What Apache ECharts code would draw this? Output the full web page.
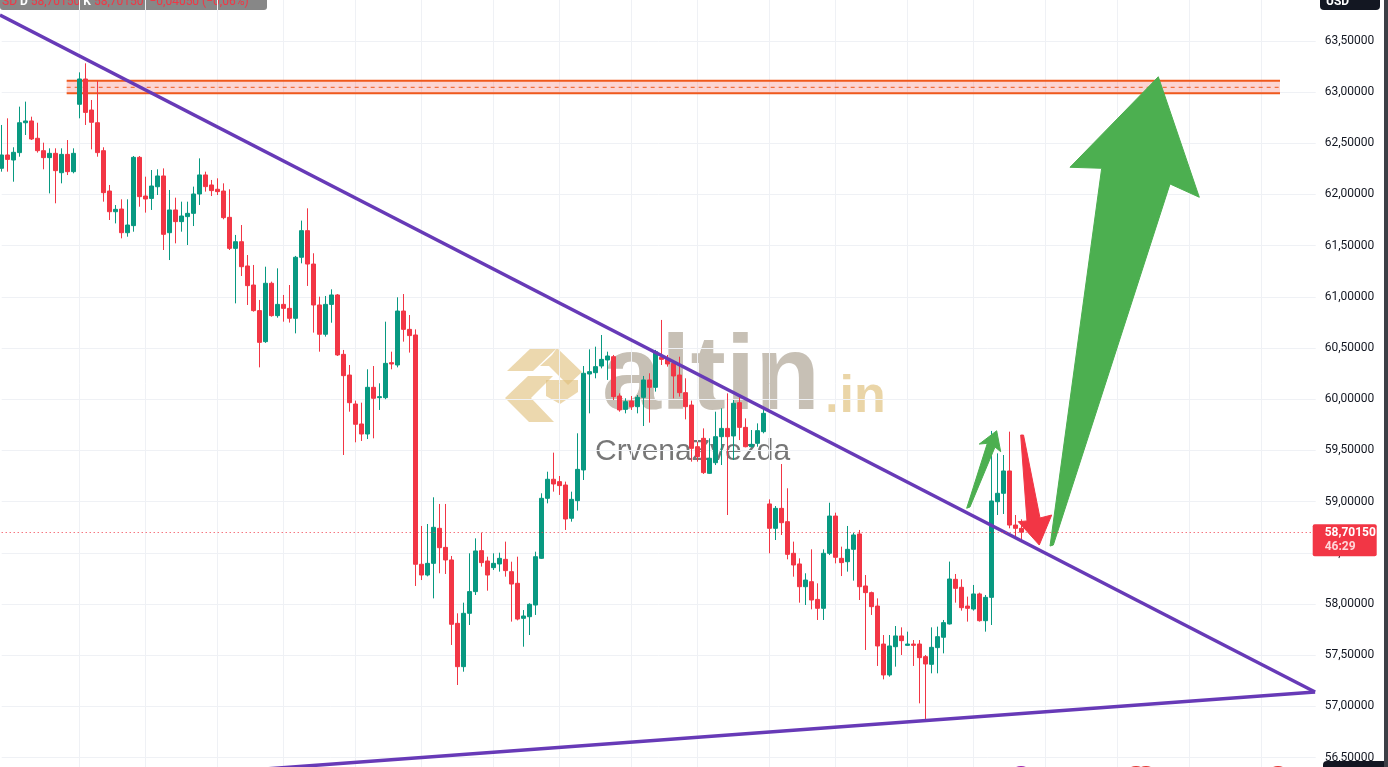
<!DOCTYPE html>
<html><head><meta charset="utf-8">
<script src="https://cdn.jsdelivr.net/npm/echarts/dist/echarts.min.js"></script>
<style>html,body{margin:0;padding:0;background:#fff;overflow:hidden}#chart{width:1388px;height:767px}</style>
</head><body><div id="chart"></div>
<script>
// ---- data ----
const candleOpen = [62.255,62.385,62.336,62.408,62.700,62.717,62.548,62.427,62.359,62.401,62.212,62.391,62.222,62.880,63.127,62.824,62.700,62.427,62.033,61.831,61.857,61.626,61.695,62.362,61.984,61.961,62.075,62.180,61.626,61.848,
61.734,61.783,61.815,62.004,62.190,62.092,62.050,62.033,61.776,61.473,61.538,61.301,61.115,60.865,60.562,61.132,60.816,60.926,60.887,60.790,61.386,61.646,61.320,60.920,60.634,60.926,61.018,60.438,
60.236,59.953,59.758,59.660,60.116,60.015,60.015,60.357,60.334,60.861,60.682,60.627,58.388,58.283,58.397,58.739,58.553,58.430,57.811,57.388,57.909,58.121,58.521,58.420,58.355,58.391,58.436,
58.316,58.202,57.860,57.876,57.990,58.446,59.032,59.218,59.195,59.162,58.837,59.009,59.309,60.246,60.259,60.324,60.383,60.415,60.031,59.901,59.982,59.927,60.018,60.188,60.116,60.409,60.389,60.350,
60.236,60.064,59.943,59.536,59.618,59.276,59.380,59.634,59.715,59.641,59.966,59.725,59.536,59.569,59.683,58.977,58.739,58.934,58.804,58.495,58.391,58.169,58.218,58.045,57.958,58.495,58.859,
58.446,58.413,58.534,58.684,58.176,58.111,57.980,57.609,57.307,57.583,57.688,57.596,57.609,57.609,57.486,57.411,57.574,57.675,57.805,58.241,58.163,57.980,57.951,58.098,57.837,58.065,58.999,59.081,59.299,58.771,58.739];
const candleHigh = [62.678,62.743,62.460,62.857,62.906,62.759,62.700,62.505,62.450,62.450,62.450,62.531,62.450,63.192,63.280,62.922,63.111,62.460,62.092,61.896,61.952,61.952,62.375,62.375,62.173,62.238,62.245,62.254,62.043,61.968,
61.929,61.929,62.076,62.352,62.222,62.141,62.157,62.108,62.050,61.604,61.701,61.408,61.311,60.969,61.294,61.148,61.278,61.018,61.115,61.399,61.744,61.864,61.425,61.001,61.008,61.073,61.027,60.481,
60.334,59.986,59.966,60.292,60.324,60.155,60.757,60.464,60.995,61.027,60.822,60.682,58.762,58.781,59.042,58.977,58.977,58.469,57.909,58.013,58.495,58.641,58.697,58.462,58.495,58.501,58.609,
58.413,58.462,57.941,58.007,58.511,59.081,59.292,59.478,59.250,59.195,59.097,59.667,60.324,60.487,60.513,60.627,60.464,60.432,60.057,60.009,60.031,60.041,60.227,60.253,60.481,60.774,60.432,60.383,
60.415,60.204,59.986,59.585,59.715,59.618,59.878,59.911,60.057,59.992,60.041,59.813,59.699,59.764,59.911,59.022,58.957,59.367,59.130,58.609,58.446,58.300,58.534,58.202,58.534,58.989,58.892,
58.560,58.762,58.697,58.723,58.283,58.121,58.055,57.697,57.697,57.785,57.772,57.730,57.648,57.648,57.502,57.772,57.779,57.844,58.414,58.293,58.241,58.072,58.186,58.111,58.088,59.690,59.471,59.455,59.683,58.869,58.827];
const candleLow = [62.222,62.222,62.124,62.368,62.580,62.531,62.408,62.245,62.010,61.913,62.108,62.189,62.206,62.743,62.678,62.440,62.368,61.929,61.750,61.717,61.571,61.587,61.636,61.880,61.822,61.848,61.994,61.457,61.359,61.522,
61.636,61.506,61.691,61.897,62.027,61.984,61.994,61.757,61.457,60.936,61.203,60.920,60.855,60.311,60.550,60.806,60.796,60.757,60.748,60.643,61.327,61.106,60.650,60.464,60.611,60.747,60.422,59.455,
59.878,59.579,59.592,59.611,59.618,59.895,60.000,60.292,60.311,60.562,60.455,58.176,58.234,58.270,58.055,58.300,58.293,57.600,57.209,57.339,57.795,58.088,58.365,58.130,58.332,58.316,58.267,
57.828,57.840,57.583,57.697,57.893,58.440,58.983,59.097,59.065,58.723,58.804,58.912,59.211,59.862,60.204,60.301,60.188,59.992,59.878,59.862,59.895,59.862,59.738,59.771,60.074,60.334,60.318,60.008,
60.025,59.803,59.390,59.390,59.270,59.270,59.357,59.357,58.869,59.406,59.601,59.530,59.530,59.536,59.667,58.495,58.625,58.674,58.436,58.267,58.013,57.990,57.948,57.844,57.844,58.478,58.397,
58.273,58.316,58.228,58.039,57.551,57.893,57.395,57.264,57.290,57.388,57.502,57.590,57.395,57.030,56.851,57.323,57.323,57.518,57.800,58.013,57.935,57.828,57.935,57.828,57.730,57.795,58.869,58.879,58.739,58.641,58.625];
const candleClose = [62.385,62.342,62.411,62.700,62.717,62.541,62.427,62.359,62.401,62.232,62.391,62.222,62.401,63.127,62.801,62.704,62.408,62.017,61.831,61.854,61.626,61.701,62.362,61.978,61.955,62.082,62.180,61.610,61.848,61.734,
61.789,61.815,62.004,62.190,62.076,62.037,62.027,61.773,61.473,61.538,61.294,61.109,60.865,60.555,61.132,60.816,60.926,60.887,60.790,61.386,61.646,61.320,60.920,60.634,60.926,61.018,60.432,60.230,
59.966,59.755,59.660,60.116,60.009,60.025,60.350,60.344,60.861,60.682,60.621,58.388,58.283,58.397,58.749,58.550,58.430,57.802,57.388,57.909,58.121,58.518,58.404,58.283,58.397,58.446,58.326,
58.195,57.853,57.883,57.997,58.462,59.032,59.218,59.172,59.156,58.830,59.022,59.315,60.253,60.269,60.318,60.389,60.422,60.025,59.895,59.976,59.927,60.018,60.188,60.116,60.464,60.389,60.344,60.227,
60.064,59.927,59.520,59.439,59.283,59.423,59.634,59.715,59.634,59.960,59.725,59.536,59.559,59.693,59.862,58.739,58.934,58.794,58.485,58.381,58.169,58.234,58.039,57.958,58.495,58.859,58.456,
58.404,58.534,58.674,58.169,58.111,57.974,57.590,57.307,57.590,57.688,57.642,57.609,57.596,57.476,57.414,57.577,57.681,57.818,58.244,58.153,57.964,57.958,58.098,57.837,58.065,59.006,59.081,59.299,58.771,58.739,58.7015];
const categories = Array.from({length: 220}, (_, i) => String(i));
const verticalGridIndices = [13,24,36,47,59,70,82,93,105,116,128,139,151,162,174,186,198,210];
const priceMin = 56, priceMax = 64, priceStep = 0.5;
const lastPrice = 58.7015;
const lastPriceText = '58,70150';
const countdownText = '46:29';
const upperTrendLine = [[-0.283, 63.752], [218.9, 57.141]];
const lowerTrendLine = [[30, 56.329], [218.9, 57.141]];
const zoneIdx = [10.83, 213.05];
const zoneTop = 63.110, zoneMid = 63.046, zoneBottom = 62.987;
const arrowBigUp = [[174.72,58.566],[183.33,62.255],[178.05,62.265],[192.77,63.149],[199.6,61.972],[194.72,62.102],[175.27,58.576]];
const arrowSmallUp = [[160.83,58.935],[164.27,59.569],[162.93,59.562],[165.83,59.692],[166.5,59.487],[165.55,59.533],[161.38,58.947]];
const arrowDown = [[169.83,59.650],[170.3,59.650],[173.05,58.840],[175.0,58.869],[172.93,58.576],[169.43,58.804],[170.88,58.811]];

// ---- chart ----
const UP = '#089981', DOWN = '#f23645';
const arrows = [
  {pts: arrowBigUp, color: '#4caf50'},
  {pts: arrowSmallUp, color: '#4caf50'},
  {pts: arrowDown, color: '#f23645'}
];
const chart = echarts.init(document.getElementById('chart'), null, {renderer: 'canvas'});
const gridLineColor = '#eff1f5';
chart.setOption({
  animation: false,
  backgroundColor: '#ffffff',
  grid: {left: 1.7, right: 72.3, top: -10.4, bottom: -41.8, containLabel: false, outerBoundsMode: 'none'},
  xAxis: [
    {type: 'category', data: categories, boundaryGap: false, gridIndex: 0,
     axisLine: {show: false}, axisTick: {show: false}, axisLabel: {show: false},
     splitLine: {show: true, interval: (i) => verticalGridIndices.includes(i), lineStyle: {color: gridLineColor, width: 1}}},
    {type: 'value', min: 0, max: 219, gridIndex: 0, show: false}
  ],
  yAxis: {
    type: 'value', position: 'right', min: priceMin, max: priceMax, interval: priceStep, scale: true,
    axisLine: {show: false}, axisTick: {show: false},
    axisLabel: {color: '#131722', fontSize: 12, fontFamily: 'Roboto', margin: 9,
      formatter: (v) => (v <= priceMin || v >= priceMax) ? '' : v.toFixed(5).replace('.', ',')},
    splitLine: {show: true, lineStyle: {color: gridLineColor, width: 1}}
  },
  series: [
    {
      type: 'custom', name: 'zone', xAxisIndex: 1, yAxisIndex: 0, z: 1, silent: true,
      data: [[zoneIdx[0], zoneTop]],
      renderItem: (params, api) => {
        const a = api.coord([zoneIdx[0], zoneTop]);
        const b = api.coord([zoneIdx[1], zoneBottom]);
        const m = api.coord([zoneIdx[0], zoneMid]);
        const c = '#f0591c';
        return {type: 'group', children: [
          {type: 'rect', shape: {x: a[0], y: a[1], width: b[0] - a[0], height: b[1] - a[1]}, style: {fill: 'rgba(242,80,70,0.24)'}},
          {type: 'line', shape: {x1: a[0], y1: a[1], x2: b[0], y2: a[1]}, style: {stroke: c, lineWidth: 2}},
          {type: 'line', shape: {x1: a[0], y1: b[1], x2: b[0], y2: b[1]}, style: {stroke: c, lineWidth: 2}},
          {type: 'line', shape: {x1: a[0], y1: m[1], x2: b[0], y2: m[1]}, style: {stroke: c, lineWidth: 1, lineDash: [4, 4]}}
        ]};
      }
    },
    {
      type: 'candlestick', xAxisIndex: 0, yAxisIndex: 0, z: 2, clip: false, barWidth: 4,
      data: candleOpen.map((o, i) => [o, candleClose[i], candleLow[i], candleHigh[i]]),
      itemStyle: {color: UP, color0: DOWN, borderColor: UP, borderColor0: DOWN, borderWidth: 1},
      markLine: {silent: true, symbol: ['none', 'none'], label: {show: false},
        lineStyle: {color: DOWN, type: [1, 3], width: 1}, data: [{yAxis: lastPrice}]}
    },
    {type: 'line', xAxisIndex: 1, yAxisIndex: 0, z: 3, clip: false, symbol: 'none', silent: true,
     data: upperTrendLine, lineStyle: {color: '#673ab7', width: 3.5}},
    {type: 'line', xAxisIndex: 1, yAxisIndex: 0, z: 3, clip: false, symbol: 'none', silent: true,
     data: lowerTrendLine, lineStyle: {color: '#673ab7', width: 3.5}},
    {
      type: 'custom', name: 'arrows', xAxisIndex: 1, yAxisIndex: 0, z: 4, silent: true,
      data: arrows.map(a => a.pts[0]),
      renderItem: (params, api) => {
        const s = arrows[params.dataIndex];
        return {type: 'polygon', shape: {points: s.pts.map(p => api.coord(p))},
                style: {fill: s.color, stroke: s.color, lineWidth: 1, lineJoin: 'round'}};
      }
    },
    {
      type: 'custom', name: 'lastPrice', xAxisIndex: 1, yAxisIndex: 0, z: 10, silent: true,
      data: [[219, lastPrice]],
      renderItem: (params, api) => {
        const p = api.coord([219, lastPrice]);
        return {type: 'group', children: [
          {type: 'rect', shape: {x: p[0] - 3, y: p[1] - 8, width: 64, height: 32, r: 2}, style: {fill: '#f23645'}},
          {type: 'text', style: {x: p[0] + 9, y: p[1] - 5, text: lastPriceText, fill: '#ffffff', font: 'bold 12px Roboto', verticalAlign: 'top'}},
          {type: 'text', style: {x: p[0] + 9, y: p[1] + 9, text: countdownText, fill: '#ffd6d9', font: 'bold 12px Roboto', verticalAlign: 'top'}}
        ]};
      }
    }
  ],
  graphic: [
    {type: 'group', z: 50, silent: true, children: [
      {type: 'polygon', shape: {points: [[507,371],[531,348],[557,348],[533,371]]}, style: {fill: 'rgba(224,190,120,0.6)'}},
      {type: 'polygon', shape: {points: [[557,348],[582,372],[568,385],[549,366],[540,366],[552,355]]}, style: {fill: 'rgba(224,190,120,0.6)'}},
      {type: 'polygon', shape: {points: [[505,398],[528,376],[553,376],[531,398],[554,422],[529,422]]}, style: {fill: 'rgba(224,190,120,0.6)'}},
      {type: 'polygon', shape: {points: [[546,380],[578,380],[578,392],[560,404],[546,396]]}, style: {fill: 'rgba(224,190,120,0.6)'}},
      {type: 'text', style: {x: 602, y: 380, text: 'altin', font: 'bold 106px "Liberation Sans"', fill: 'rgba(175,165,150,0.7)', verticalAlign: 'middle'}},
      {type: 'text', style: {x: 825, y: 398, text: '.in', font: 'bold 52px "Liberation Sans"', fill: 'rgba(222,190,120,0.65)', verticalAlign: 'middle'}},
      {type: 'text', style: {x: 595, y: 452, text: 'CrvenaZvezda', font: '30px "Liberation Sans"', fill: 'rgba(95,95,95,0.85)', verticalAlign: 'middle'}}
    ]},
    {type: 'group', z: 60, silent: true, children: [
      {type: 'rect', shape: {x: 0, y: -12, width: 267, height: 22, r: 3}, style: {fill: 'rgba(125,125,125,0.92)'}},
      {type: 'text', style: {x: 2, y: 8, verticalAlign: 'bottom', font: '12px Roboto',
        text: '{r|SD} {w|D} {r|58,70150} {w|K} {r|58,70150}  {r|−0,04050 (−0,06%)}',
        rich: {r: {fill: '#f23645', font: '12px Roboto'}, w: {fill: '#ffffff', font: 'bold 12px Roboto'}}}}
    ]},
    {type: 'group', z: 60, silent: true, children: [
      {type: 'rect', shape: {x: 1320, y: -12, width: 60, height: 22, r: 4}, style: {fill: '#131722'}},
      {type: 'text', style: {x: 1326, y: 8, verticalAlign: 'bottom', text: 'USD', fill: '#ffffff', font: 'bold 12px Roboto'}}
    ]},
    {type: 'rect', z: 60, silent: true, shape: {x: 1323, y: 761, width: 70, height: 20, r: 4}, style: {fill: '#131722'}},
    {type: 'rect', z: 60, silent: true, shape: {x: 1384, y: 0, width: 4, height: 767}, style: {fill: '#3c3f46'}},
    {type: 'circle', z: 60, silent: true, shape: {cx: 1021, cy: 778, r: 11}, style: {fill: '#ffffff', stroke: '#9c27b0', lineWidth: 2}},
    {type: 'circle', z: 60, silent: true, shape: {cx: 1136, cy: 778, r: 11}, style: {fill: '#42a5f5', stroke: '#e53935', lineWidth: 2}},
    {type: 'circle', z: 60, silent: true, shape: {cx: 1146, cy: 778, r: 11}, style: {fill: '#42a5f5', stroke: '#e53935', lineWidth: 2}},
    {type: 'circle', z: 60, silent: true, shape: {cx: 1278, cy: 778, r: 11}, style: {fill: '#42a5f5', stroke: '#e53935', lineWidth: 2}}
  ]
});
</script>
</body></html>
